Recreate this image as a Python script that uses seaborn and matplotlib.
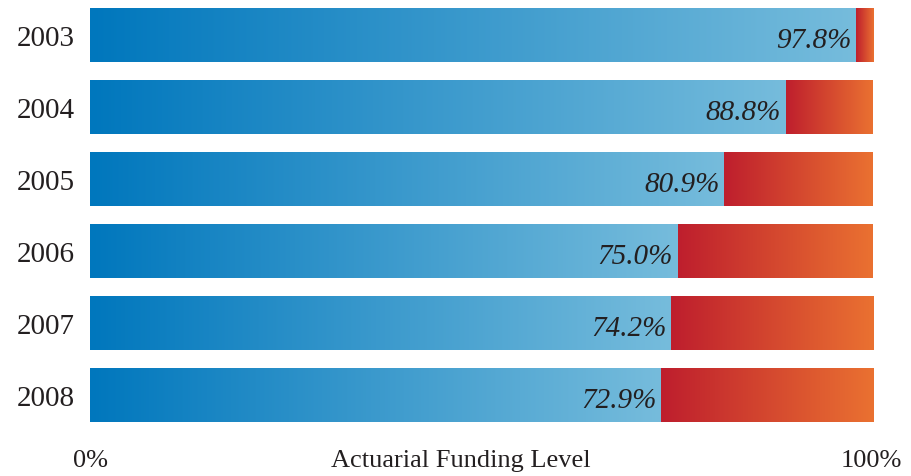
import matplotlib
matplotlib.use("Agg")
import matplotlib.pyplot as plt
import numpy as np
import pandas as pd
import seaborn as sns
from matplotlib.colors import LinearSegmentedColormap

years = ["2003", "2004", "2005", "2006", "2007", "2008"]
funding = [97.8, 88.8, 80.9, 75.0, 74.2, 72.9]
full_scale = [100, 100, 100, 100, 100, 100]
x_tick_labels = ["0%", "100%"]
x_title = "Actuarial Funding Level"

sns.set_style("white")
plt.rcParams["font.family"] = ["Liberation Serif", "DejaVu Serif"]
text_color = "#231f20"

blue_cmap = LinearSegmentedColormap.from_list("blue", ["#0077bd", "#76bcdc"])
red_cmap = LinearSegmentedColormap.from_list("red", ["#be1e2d", "#ea7131"])
ramp = np.linspace(0, 1, 256).reshape(1, -1)

df = pd.DataFrame({"year": years, "funding": funding, "total": full_scale})

fig = plt.figure(figsize=(9.11, 4.77), dpi=100)
ax = fig.add_axes([90 / 911, 47 / 477, 783 / 911, 430 / 477])

# full-length bars (unfunded part) then funded bars on top
sns.barplot(data=df, x="total", y="year", orient="h", width=0.74,
            color="#be1e2d", errorbar=None, ax=ax)
sns.barplot(data=df, x="funding", y="year", orient="h", width=0.74,
            color="#0077bd", errorbar=None, ax=ax)

n = len(years)
total_bars = ax.patches[:n]
fund_bars = ax.patches[n:2 * n]
for tb, fb in zip(total_bars, fund_bars):
    y0 = tb.get_y()
    y1 = y0 + tb.get_height()
    f = fb.get_width()
    end = tb.get_width()
    ax.imshow(ramp, cmap=red_cmap, aspect="auto", extent=(f, end, y1, y0),
              interpolation="bilinear", zorder=2)
    ax.imshow(ramp, cmap=blue_cmap, aspect="auto", extent=(0, f, y1, y0),
              interpolation="bilinear", zorder=2)
    tb.set_visible(False)
    fb.set_visible(False)

for i, v in enumerate(funding):
    ax.annotate(f"{v:.1f}%", xy=(v, i), xytext=(-3, -3), textcoords="offset points",
                ha="right", va="center", fontsize=21, fontstyle="italic",
                color=text_color, zorder=3)

ax.set_xlim(0, 100)
ax.set_ylim(5 + 33.5 / 72, -36.5 / 72)
ax.set_xlabel("")
ax.set_ylabel("")
ax.set_xticks([])
ax.tick_params(axis="y", length=0, pad=11, labelsize=21, labelcolor=text_color)
sns.despine(ax=ax, left=True, bottom=True)

fig.text(90 / 911, 1 - 461 / 477, x_tick_labels[0], ha="center", va="center",
         fontsize=19, color=text_color)
fig.text(871 / 911, 1 - 461 / 477, x_tick_labels[1], ha="center", va="center",
         fontsize=19, color=text_color)
fig.text(461 / 911, 1 - 461 / 477, x_title, ha="center", va="center",
         fontsize=19, color=text_color)

fig.savefig("out.png", dpi=100)
